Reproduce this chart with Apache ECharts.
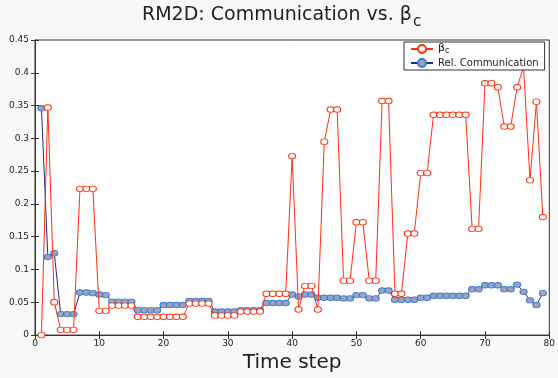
<!DOCTYPE html>
<html>
<head>
<meta charset="utf-8">
<script src="https://cdn.jsdelivr.net/npm/echarts@6/dist/echarts.min.js"></script>
<style>
html,body{margin:0;padding:0;background:#f8f8f6;}
#c{width:558px;height:378px;}
</style>
</head>
<body>
<div id="c"></div>
<script>
var timeSteps = [1,2,3,4,5,6,7,8,9,10,11,12,13,14,15,16,17,18,19,20,21,22,23,24,25,26,27,28,29,30,31,32,33,34,35,36,37,38,39,40,41,42,43,44,45,46,47,48,49,50,51,52,53,54,55,56,57,58,59,60,61,62,63,64,65,66,67,68,69,70,71,72,73,74,75,76,77,78,79];
var betaC = [0,0.347,0.050,0.008,0.008,0.008,0.223,0.223,0.223,0.037,0.037,0.045,0.045,0.045,0.045,0.028,0.028,0.028,0.028,0.028,0.028,0.028,0.028,0.048,0.048,0.048,0.048,0.030,0.030,0.030,0.030,0.036,0.036,0.036,0.036,0.063,0.063,0.063,0.063,0.273,0.039,0.075,0.075,0.039,0.295,0.344,0.344,0.083,0.083,0.172,0.172,0.083,0.083,0.357,0.357,0.063,0.063,0.155,0.155,0.247,0.247,0.336,0.336,0.336,0.336,0.336,0.336,0.162,0.162,0.384,0.384,0.378,0.318,0.318,0.378,0.409,0.236,0.356,0.180];
var relComm = [0.346,0.119,0.125,0.032,0.032,0.032,0.065,0.065,0.064,0.062,0.061,0.051,0.051,0.051,0.051,0.038,0.038,0.038,0.038,0.046,0.046,0.046,0.046,0.052,0.052,0.052,0.052,0.036,0.036,0.036,0.036,0.038,0.038,0.038,0.038,0.049,0.049,0.049,0.049,0.062,0.059,0.062,0.062,0.057,0.057,0.057,0.057,0.056,0.056,0.061,0.061,0.056,0.056,0.068,0.068,0.054,0.054,0.054,0.054,0.057,0.057,0.060,0.060,0.060,0.060,0.060,0.060,0.070,0.070,0.076,0.076,0.076,0.070,0.070,0.077,0.066,0.053,0.046,0.064];
var seriesNames = ['βc', 'Rel. Communication'];
var xTicks = {min: 0, max: 80, interval: 10};
var yTicks = {min: 0, max: 0.45, interval: 0.05};

var FONT = 'DejaVu Sans';
function pairs(xs, ys){ return xs.map(function(x,i){ return [x, ys[i]]; }); }

var chart = echarts.init(document.getElementById('c'), null, {renderer:'canvas'});
var axisLineStyle = {lineStyle:{color:'#333', width:1}};
var tick = {show:true, inside:true, length:4, lineStyle:{color:'#333', width:1}};
chart.setOption({
  backgroundColor:'#f8f8f6',
  animation:false,
  title:{
    text:'{t|RM2D: Communication vs. β}{s|c}',
    left:142, top:0, padding:[6,0,0,0],
    textStyle:{ fontWeight:'normal', rich:{
      t:{fontSize:19, fontFamily:FONT, fontWeight:'normal', color:'#222', lineHeight:24, verticalAlign:'top'},
      s:{fontSize:15, fontFamily:FONT, fontWeight:'normal', color:'#222', lineHeight:12, verticalAlign:'bottom', padding:[0,0,0,1]}
    }}
  },
  legend:{
    left:404, top:42, orient:'vertical',
    padding:[1,6,2,6], itemGap:3, itemWidth:22, itemHeight:10,
    backgroundColor:'#ffffff', borderColor:'#333', borderWidth:1, borderRadius:0,
    data: seriesNames,
    formatter:function(n){ return n === seriesNames[0] ? '{b|β}{c|c}' : n; },
    textStyle:{ fontSize:10, fontFamily:FONT, color:'#222',
      rich:{ b:{fontSize:11, fontFamily:FONT, color:'#222', lineHeight:12, verticalAlign:'top'},
             c:{fontSize:8, fontFamily:FONT, color:'#222', lineHeight:7, verticalAlign:'bottom'} } }
  },
  grid:{left:35, right:6, top:40, bottom:33, show:true, backgroundColor:'#ffffff', borderColor:'#333', borderWidth:1},
  xAxis:[{
    type:'value', min:xTicks.min, max:xTicks.max, interval:xTicks.interval, position:'bottom',
    axisLine:axisLineStyle, axisTick:tick, splitLine:{show:false},
    axisLabel:{fontSize:9, fontFamily:FONT, color:'#222', margin:4},
    name:'Time step', nameLocation:'middle', nameGap:12,
    nameTextStyle:{fontSize:20, fontFamily:FONT, color:'#222'}
  },{
    type:'value', min:xTicks.min, max:xTicks.max, interval:xTicks.interval, position:'top',
    axisLine:axisLineStyle, axisTick:tick, axisLabel:{show:false}, splitLine:{show:false}
  }],
  yAxis:[{
    type:'value', min:yTicks.min, max:yTicks.max, interval:yTicks.interval, position:'left',
    axisLine:axisLineStyle, axisTick:tick, splitLine:{show:false},
    axisLabel:{fontSize:9, fontFamily:FONT, color:'#222', margin:6}
  },{
    type:'value', min:yTicks.min, max:yTicks.max, interval:yTicks.interval, position:'right',
    axisLine:axisLineStyle, axisTick:tick, axisLabel:{show:false}, splitLine:{show:false}
  }],
  series:[{
    name:seriesNames[0], type:'line', xAxisIndex:0, yAxisIndex:0,
    data:pairs(timeSteps, betaC),
    symbol:'circle', symbolSize:[7,5.5],
    lineStyle:{color:'#ff3010', width:1},
    itemStyle:{color:'#ffffff', borderColor:'#ff3010', borderWidth:1},
    z:3
  },{
    name:seriesNames[1], type:'line', xAxisIndex:0, yAxisIndex:0,
    data:pairs(timeSteps, relComm),
    symbol:'circle', symbolSize:[7,5.5],
    lineStyle:{color:'#1c2f8a', width:1},
    itemStyle:{color:'#9aa4bc', borderColor:'#3a78d6', borderWidth:1},
    z:2
  }]
});
</script>
</body>
</html>
